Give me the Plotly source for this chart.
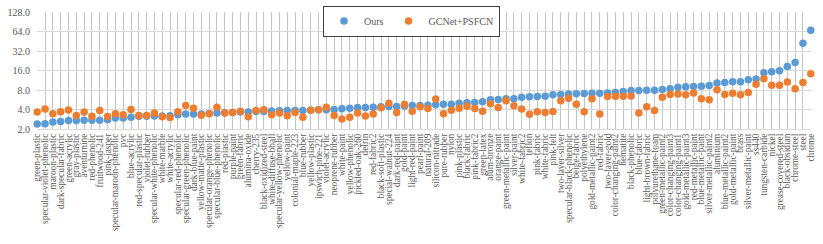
import plotly.graph_objects as go

materials = [
    "green-plastic", "specular-violet-phenolic", "maroon-plastic", "dark-specular-fabric",
    "green-acrylic", "gray-plastic", "aventurnine", "red-phenolic", "fruitwood-241",
    "pink-jasper", "specular-maroon-phenolic", "pvc", "blue-acrylic", "red-specular-plastic",
    "violet-rubber", "specular-white-phenolic", "white-marble", "white-acrylic",
    "specular-red-phenolic", "specular-green-phenolic", "dark-blue-paint",
    "yellow-matte-plastic", "specular-orange-phenolic", "specular-blue-phenolic",
    "red-plastic", "purple-paint", "green-fabric", "alumina-oxide", "cherry-235",
    "black-oxidized-steel", "white-diffuse-bball", "specular-yellow-phenolic",
    "yellow-paint", "colonial-maple-223", "blue-rubber", "yellow-plastic",
    "ipswich-pine-221", "violet-acrylic", "neoprene-rubber", "white-paint",
    "yellow-phenolic", "pickled-oak-260", "delrin", "red-fabric2", "black-soft-plastic",
    "special-walnut-224", "dark-red-paint", "gold-paint", "light-red-paint", "pearl-paint",
    "natural-209", "silicon-nitrade", "pure-rubber", "nylon", "pink-plastic",
    "black-fabric", "pink-fabric2", "green-latex", "alum-bronze", "orange-paint",
    "green-metallic-paint", "silver-paint", "white-fabric2", "teflon", "pink-fabric",
    "white-fabric", "pink-felt", "two-layer-silver", "specular-black-phenolic",
    "beige-fabric", "polyethylene", "gold-metallic-paint2", "red-fabric",
    "two-layer-gold", "color-changing-paint2", "hematite", "black-phenolic",
    "blue-fabric", "light-brown-fabric", "polyurethane-foam", "green-metallic-paint2",
    "color-changing-paint3", "color-changing-paint1", "gold-metallic-paint3",
    "red-metallic-paint", "blue-metallic-paint", "silver-metallic-paint2", "aluminium",
    "blue-metallic-paint2", "gold-metallic-paint", "brass", "silver-metallic-paint",
    "ss440", "tungsten-carbide", "nickel", "grease-covered-steel", "black-obsidian",
    "chrome-steel", "steel", "chrome",
]

ours = [
    2.38, 2.42, 2.56, 2.61, 2.70, 2.70, 2.74, 2.74, 2.74, 2.77,
    2.95, 2.95, 3.05, 3.16, 3.16, 3.18, 3.18, 3.20, 3.31, 3.40,
    3.40, 3.42, 3.47, 3.52, 3.56, 3.60, 3.65, 3.67, 3.72, 3.74,
    3.80, 3.82, 3.86, 3.86, 3.87, 3.91, 3.95, 3.96, 4.00, 4.10,
    4.20, 4.29, 4.29, 4.35, 4.40, 4.45, 4.46, 4.55, 4.61, 4.62,
    4.67, 4.75, 4.80, 4.82, 5.00, 5.07, 5.13, 5.25, 5.68, 5.70,
    5.84, 5.88, 6.18, 6.27, 6.37, 6.38, 6.78, 6.80, 6.95, 7.00,
    7.08, 7.10, 7.12, 7.17, 7.35, 7.60, 7.86, 7.87, 7.90, 7.92,
    8.15, 8.40, 8.80, 8.95, 9.02, 9.15, 9.40, 10.3, 10.45, 10.7,
    10.75, 11.5, 11.8, 14.8, 15.3, 15.8, 18.4, 21.3, 42.0, 66.8,
]

gcnet = [
    3.65, 4.06, 3.43, 3.69, 3.92, 3.23, 3.65, 3.16, 3.86, 3.12,
    3.43, 3.31, 4.00, 3.23, 3.23, 3.52, 3.09, 3.01, 3.69, 4.60,
    4.20, 3.26, 3.43, 4.35, 3.54, 3.58, 3.76, 3.08, 3.86, 3.96,
    3.31, 3.54, 3.21, 3.58, 3.05, 3.88, 3.98, 4.35, 3.22, 2.85,
    3.03, 3.52, 3.18, 3.40, 4.27, 5.00, 3.58, 4.76, 3.75, 4.40,
    4.15, 5.82, 3.43, 3.90, 4.20, 4.50, 4.15, 3.77, 4.90, 4.29,
    5.48, 4.58, 4.06, 3.38, 3.70, 3.60, 3.73, 5.48, 5.95, 4.80,
    3.69, 5.84, 3.40, 6.33, 6.40, 6.38, 6.46, 3.54, 4.42, 3.86,
    6.18, 6.80, 6.95, 6.75, 7.18, 5.84, 5.68, 8.05, 6.83, 7.10,
    6.74, 7.35, 9.78, 11.9, 9.50, 9.45, 10.6, 8.37, 10.4, 14.2,
]

y_ticks = [2, 4, 8, 16, 32, 64, 128]
y_tick_text = ["2.0", "4.0", "8.0", "16.0", "32.0", "64.0", "128.0"]

series_names = ["Ours", "GCNet+PSFCN"]
colors = ["#5B9BD5", "#ED7D31"]

idx = list(range(len(materials)))
fig = go.Figure()
for name, vals, col in zip(series_names, [ours, gcnet], colors):
    fig.add_trace(go.Scatter(
        x=idx, y=vals, mode="markers", name=name,
        marker=dict(color=col, size=7.5, line=dict(width=0)),
        cliponaxis=False,
    ))

grid_col = "#D9D9D9"
font_family = "Liberation Serif, Times New Roman, serif"
fig.update_layout(
    width=823, height=244,
    margin=dict(l=37, r=12, t=12, b=115, autoexpand=False),
    paper_bgcolor="white", plot_bgcolor="white",
    font=dict(family=font_family, color="#595959", size=10),
    showlegend=True,
    legend=dict(
        orientation="h", xref="container", x=0.5, xanchor="center",
        yref="container", y=0.977, yanchor="top",
        bordercolor="#404040", borderwidth=1, bgcolor="white",
        font=dict(family=font_family, size=10, color="#595959"),
        itemwidth=30, tracegroupgap=0,
    ),
    xaxis=dict(
        type="linear",
        tickmode="array", tickvals=idx, ticktext=materials,
        tickangle=-90, tickfont=dict(family=font_family, size=9.3, color="#595959"),
        range=[-0.03, 99.03], showgrid=True, gridcolor="#C4C4C4", gridwidth=1,
        showline=True, linecolor=grid_col, linewidth=1, ticks="", zeroline=False,
        automargin=False, layer="below traces",
    ),
    yaxis=dict(
        type="log", range=[0.30103, 2.10721],
        tickmode="array", tickvals=y_ticks, ticktext=y_tick_text,
        tickfont=dict(family=font_family, size=10, color="#595959"),
        showgrid=True, gridcolor=grid_col, gridwidth=1, zeroline=False,
        showline=False, ticks="", ticklabelstandoff=6, automargin=False,
    ),
)

fig.write_html("out.html", config={"displayModeBar": False, "staticPlot": True},
               post_script="document.body.style.margin='0';")
